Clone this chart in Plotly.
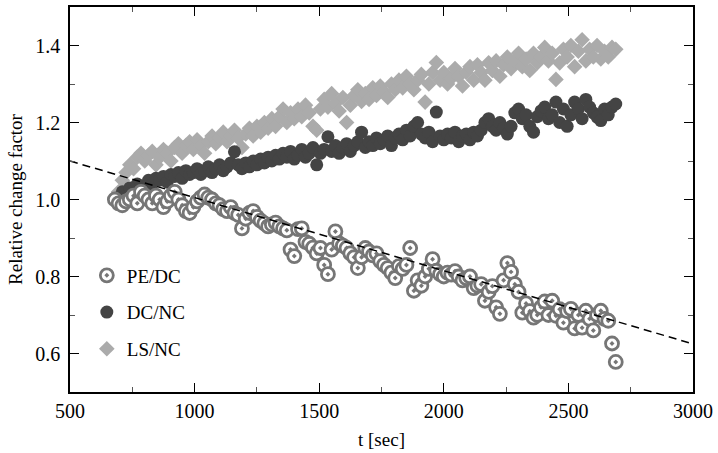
import plotly.graph_objects as go

# sampling times [sec]
t = [680 + 15 * i for i in range(135)]

pe_dc = [
    1.00, 0.99, 0.985, 0.995, 1.00, 1.01, 0.99, 1.02, 1.01, 1.00,
    0.99, 1.01, 1.00, 0.98, 0.995, 1.01, 1.02, 1.00, 0.985, 0.97,
    0.965, 0.98, 0.995, 1.005, 1.013, 1.005, 1.00, 0.99, 0.985, 0.975,
    0.97, 0.98, 0.965, 0.96, 0.925, 0.95, 0.965, 0.97, 0.955, 0.945,
    0.938, 0.93, 0.935, 0.94, 0.93, 0.925, 0.92, 0.87, 0.853, 0.923,
    0.925, 0.89, 0.885, 0.875, 0.86, 0.874, 0.83, 0.806, 0.87, 0.917,
    0.886, 0.88, 0.874, 0.86, 0.85, 0.822, 0.85, 0.874, 0.865, 0.855,
    0.86, 0.84, 0.83, 0.822, 0.81, 0.796, 0.827, 0.82, 0.83, 0.874,
    0.763, 0.79, 0.776, 0.80, 0.82, 0.845, 0.815, 0.806, 0.80, 0.81,
    0.805, 0.814, 0.80, 0.79, 0.796, 0.80, 0.77, 0.776, 0.78, 0.737,
    0.76, 0.775, 0.72, 0.703, 0.79, 0.835, 0.812, 0.78, 0.76, 0.706,
    0.73, 0.71, 0.693, 0.70, 0.72, 0.735, 0.70, 0.737, 0.698, 0.715,
    0.68, 0.71, 0.716, 0.665, 0.70, 0.667, 0.711, 0.69, 0.66, 0.70,
    0.711, 0.69, 0.685, 0.626, 0.578,
]

dc_nc = [
    1.00, 1.005, 1.02, 1.01, 1.03, 1.02, 1.04, 1.035, 1.03, 1.05,
    1.04, 1.055, 1.05, 1.06, 1.045, 1.065, 1.06, 1.07, 1.055, 1.075,
    1.065, 1.07, 1.08, 1.065, 1.075, 1.085, 1.07, 1.08, 1.09, 1.075,
    1.085, 1.095, 1.124, 1.09, 1.08, 1.095, 1.085, 1.10, 1.09, 1.105,
    1.095, 1.11, 1.10, 1.115, 1.105, 1.12, 1.11, 1.125, 1.105, 1.115,
    1.13, 1.11, 1.12, 1.135, 1.09, 1.12, 1.13, 1.163, 1.125, 1.14,
    1.12, 1.135, 1.145, 1.125, 1.14, 1.15, 1.175, 1.135, 1.15, 1.14,
    1.16, 1.145, 1.155, 1.165, 1.14, 1.16, 1.17, 1.155, 1.18, 1.165,
    1.19, 1.20, 1.17, 1.16, 1.175, 1.15, 1.227, 1.165, 1.155, 1.17,
    1.16, 1.175, 1.15, 1.165, 1.17, 1.155, 1.175, 1.165, 1.18, 1.20,
    1.21, 1.19, 1.18, 1.20, 1.185, 1.17, 1.19, 1.225, 1.235, 1.21,
    1.22, 1.19, 1.175, 1.215, 1.23, 1.24, 1.21, 1.22, 1.253, 1.20,
    1.235, 1.19, 1.22, 1.253, 1.235, 1.21, 1.26, 1.24, 1.225, 1.214,
    1.205, 1.235, 1.22, 1.24, 1.248,
]

ls_nc = [
    1.00, 1.02, 1.05, 1.07, 1.09, 1.08, 1.11, 1.12, 1.10, 1.115,
    1.125, 1.09, 1.11, 1.13, 1.12, 1.10, 1.135, 1.145, 1.12, 1.14,
    1.15, 1.13, 1.155, 1.14, 1.12, 1.15, 1.165, 1.145, 1.16, 1.175,
    1.15, 1.165, 1.18, 1.16, 1.135, 1.17, 1.185, 1.165, 1.19, 1.175,
    1.20, 1.185, 1.21, 1.19, 1.215, 1.235, 1.20, 1.225, 1.21, 1.235,
    1.215, 1.245, 1.225, 1.19, 1.18, 1.235, 1.26, 1.24, 1.275, 1.25,
    1.23, 1.265, 1.20, 1.245, 1.27, 1.285, 1.255, 1.275, 1.26, 1.29,
    1.27, 1.295, 1.28, 1.265, 1.30, 1.285, 1.31, 1.29, 1.32, 1.30,
    1.285, 1.31, 1.325, 1.253, 1.30, 1.33, 1.356, 1.31, 1.33, 1.30,
    1.315, 1.34, 1.32, 1.295, 1.33, 1.345, 1.31, 1.35, 1.33, 1.31,
    1.355, 1.335, 1.36, 1.32, 1.35, 1.37, 1.34, 1.36, 1.38, 1.345,
    1.365, 1.335, 1.38, 1.355, 1.37, 1.395, 1.36, 1.38, 1.312, 1.355,
    1.39, 1.37, 1.40, 1.345, 1.385, 1.415, 1.36, 1.39, 1.37, 1.40,
    1.365, 1.385, 1.37, 1.395, 1.39,
]

# linear fit line of PE/DC (end points)
fit_t = [500, 3000]
fit_y = [1.10, 0.625]

FONT = "Liberation Serif"

fig = go.Figure()

fig.add_trace(go.Scatter(
    x=t, y=ls_nc, mode="markers", name="LS/NC", legendrank=3,
    legendgroup="c",
    marker=dict(symbol="diamond", size=12, color="#ababab",
                line=dict(width=0)),
))
fig.add_trace(go.Scatter(
    x=t, y=dc_nc, mode="markers", name="DC/NC", legendrank=2,
    legendgroup="b",
    marker=dict(symbol="circle", size=13, color="#444444",
                line=dict(width=0)),
))
fig.add_trace(go.Scatter(
    x=t, y=pe_dc, mode="markers", name="PE/DC", legendrank=1,
    legendgroup="a",
    marker=dict(symbol="circle-dot", size=13, color="white",
                line=dict(width=2.8, color="#767676")),
))
fig.add_trace(go.Scatter(
    x=fit_t, y=fit_y, mode="lines", showlegend=False,
    line=dict(color="black", width=1.5, dash="8px,5px"),
))

axis_common = dict(
    showgrid=False, zeroline=False,
    showline=True, linecolor="black", linewidth=1.5, mirror="ticks",
    ticks="inside", ticklen=9, tickwidth=1.2, tickcolor="black",
    tickfont=dict(family=FONT, size=20, color="black"),
)

fig.update_layout(
    width=718, height=453,
    margin=dict(l=70, r=21, t=5, b=61),
    paper_bgcolor="white", plot_bgcolor="white",
    font=dict(family=FONT, size=19, color="black"),
    showlegend=True,
    legend=dict(
        x=0.027, y=0.352, xanchor="left", yanchor="top",
        bgcolor="rgba(0,0,0,0)", borderwidth=0,
        font=dict(family=FONT, size=19, color="black"),
        traceorder="grouped", tracegroupgap=9,
    ),
    xaxis=dict(
        range=[500, 3000], tick0=500, dtick=500,
        title=dict(text="t [sec]", font=dict(family=FONT, size=19), standoff=12),
        minor=dict(ticks="inside", ticklen=5, dtick=250, tickcolor="#555555",
                   tickwidth=1),
        **axis_common,
    ),
    yaxis=dict(
        range=[0.5, 1.5], tick0=0.6, dtick=0.2, tickformat=".1f",
        ticklabelstandoff=4,
        title=dict(text="Relative change factor", font=dict(family=FONT, size=19),
                   standoff=8),
        minor=dict(ticks="inside", ticklen=5, dtick=0.1, tickcolor="#555555",
                   tickwidth=1),
        **axis_common,
    ),
)

fig.write_html("out.html",
               config={"displayModeBar": False},
               post_script="document.body.style.margin='0';")
